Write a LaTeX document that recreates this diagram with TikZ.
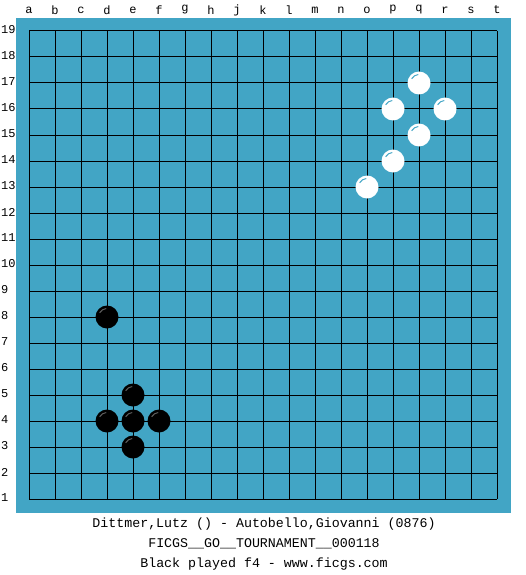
\documentclass[tikz,border=0pt]{standalone}
\usepackage{fontspec}
\setmonofont{Liberation Mono}
\usepackage{xcolor}
\definecolor{goblue}{RGB}{66,165,197}
\definecolor{goshine}{RGB}{95,95,95}

\begin{document}
\begin{tikzpicture}[x=1pt, y=-1pt]
        % ================= 样式定义 =================
        \tikzset{
            % 棋盘底色
            board/.style={fill=goblue},
            % 棋盘线
            gridline/.style={line width=1pt, black},
            % 坐标字母与数字
            coordlabel/.style={inner sep=0pt, font=\ttfamily\fontsize{12}{13}\selectfont},
            % 棋子
            wstone/.style={circle, fill=white, minimum size=23pt, inner sep=0pt},
            bstone/.style={circle, fill=black, minimum size=23pt, inner sep=0pt},
            % 棋子高光
            wshine/.style={line width=1pt, goblue},
            bshine/.style={line width=1pt, goshine},
            % 底部文字
            caption/.style={inner sep=0pt, font=\ttfamily\fontsize{13.3}{15}\selectfont}
        }
        \useasboundingbox (0,0) rectangle (525,575);

        % ================= 棋盘 =================
        \fill[board] (16,18) rectangle (511,513);
        \foreach \i in {0,...,18} {
            \draw[gridline] (29+26*\i,31) -- (29+26*\i,499);
            \draw[gridline] (29,31+26*\i) -- (497,31+26*\i);
        }

        % 列字母 (没有 i)
        \foreach \l [count=\i from 0] in {a,b,c,d,e,f,g,h,j,k,l,m,n,o,p,q,r,s,t}
            \node[coordlabel] (col-\l) at (29+26*\i,10) {\l};
        % 行数字
        \foreach \n in {1,...,19}
            \node[coordlabel, anchor=west] (row-\n) at (1,524-26*\n) {\n};

        % ================= 白子 (右上) =================
        \foreach \c/\r/\nm in {15/17/q17, 14/16/p16, 16/16/r16, 15/15/q15, 14/14/p14, 13/13/o13} {
            \node[wstone] (w-\nm) at (29+26*\c,525-26*\r) {};
            \draw[wshine] (w-\nm.center) ++(150:8.5pt) arc[start angle=150, end angle=95, radius=8.5pt];
        }

        % ================= 黑子 (左下) =================
        \foreach \c/\r/\nm in {3/8/d8, 4/5/e5, 3/4/d4, 4/4/e4, 5/4/f4, 4/3/e3} {
            \node[bstone] (b-\nm) at (29+26*\c,525-26*\r) {};
            \draw[bshine] (b-\nm.center) ++(150:8.5pt) arc[start angle=150, end angle=95, radius=8.5pt];
        }

        % ================= 底部文字 =================
        \node[caption] (players) at (264,524) {Dittmer,Lutz () - Autobello,Giovanni (0876)};
        \node[caption] (event) at (264,544) {FICGS\_\_GO\_\_TOURNAMENT\_\_000118};
        \node[caption] (lastmove) at (264,564) {Black played f4 - www.ficgs.com};

    \end{tikzpicture}
\end{document}
